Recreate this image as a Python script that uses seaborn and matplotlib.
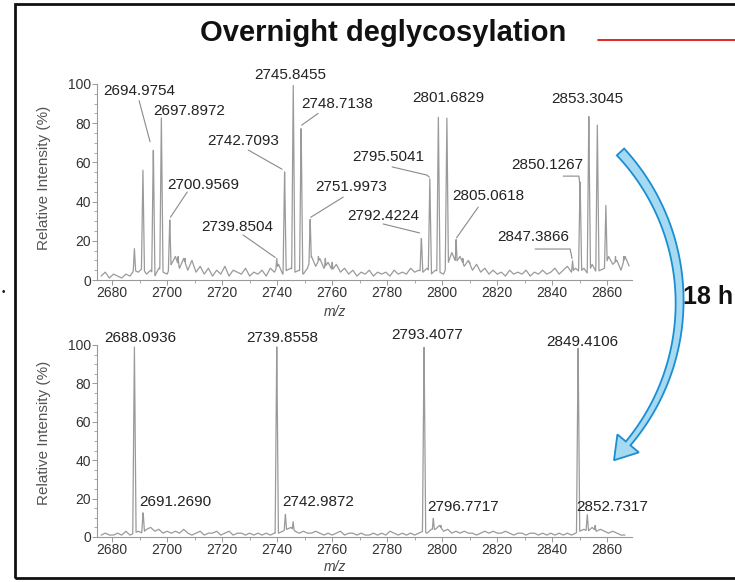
import numpy as np
import pandas as pd
import matplotlib
matplotlib.use("Agg")
import matplotlib.pyplot as plt
import seaborn as sns
from matplotlib.patches import Polygon, Rectangle
from matplotlib.ticker import MultipleLocator

# ---------------- data ----------------
# Overnight spectrum: labelled / main peaks (m/z, relative intensity %)
top_peak_mz = [2688.1, 2691.2, 2694.9754, 2697.8972, 2700.9569, 2704.0, 2706.5, 2709.0,
               2739.8504, 2742.7093, 2745.8455, 2748.7138, 2751.9973, 2755.0, 2757.5, 2760.0,
               2792.4224, 2795.5041, 2798.6, 2801.6829, 2805.0618, 2807.5, 2810.0,
               2847.3866, 2850.1267, 2853.3045, 2856.4, 2859.5, 2863.0, 2866.0]
top_peak_h = [16, 56, 69, 83, 31, 12, 11, 10,
              11, 56, 100, 79, 31, 12, 11, 9,
              22, 52, 83, 85, 21, 11, 9,
              10, 52, 84, 79, 38, 12, 12]
# Overnight spectrum: baseline noise, sampled every 1.5 m/z from 2676
top_noise_h = [2, 4, 1, 3, 2, 1, 3, 2, 5,
               4, 6, 3, 5, 2, 6, 4, 3,
               8, 12, 6, 11, 5, 10, 4, 7,
               3, 6, 2, 5, 3, 7, 2, 5, 4, 3, 6, 2, 4, 3, 5, 2,
               6, 4, 8, 3,
               5, 6, 4, 5, 3,
               6, 12, 7, 11, 6, 9, 5, 8, 4,
               6, 3, 5, 2, 4, 3, 5, 2, 4, 3, 4, 2, 5, 3, 4, 3, 6, 4,
               5, 4, 6, 3, 5,
               4, 3, 8, 14, 9, 12, 7, 10, 5, 8,
               4, 6, 3, 5, 3, 4, 2, 5, 3, 4, 3, 5, 2, 4, 3, 5, 3, 4, 6, 3,
               5, 7, 4, 6,
               4, 6, 3, 8, 4, 5,
               6, 12, 8, 10, 5, 12, 7]

# 18 h spectrum
bot_peak_mz = [2688.0936, 2691.2690, 2694.0, 2739.8558, 2742.9872, 2745.8,
               2793.4077, 2796.7717, 2799.5, 2849.4106, 2852.7317, 2855.6]
bot_peak_h = [100, 13, 5, 100, 12, 8, 100, 10, 6, 100, 12, 6]
bot_noise_h = [1, 2, 1, 1, 2, 1, 3, 1,
               2, 3, 2, 4,
               5, 3, 4, 2, 3, 2, 3, 2, 4,
               2, 1, 2, 3, 1, 2, 2, 3, 1, 2, 3, 1, 2, 2, 1, 2, 1, 2, 1, 2,
               1, 2, 2, 3,
               4, 5, 3, 2, 3, 2, 2, 3,
               2, 1, 2, 1, 2, 3, 1, 2, 2, 1, 2, 1, 1, 2, 1, 2, 1, 3, 2, 1, 2, 1, 2,
               1, 2, 3, 2, 4,
               4, 6, 3, 4, 2, 3, 2,
               3, 2, 2, 1, 2, 3, 2, 3, 2, 2, 3, 2, 1, 2, 2, 1, 2, 2, 1, 2, 1, 2, 1, 2,
               1, 2, 1, 2, 3,
               4, 3, 5, 3, 4, 3, 2, 3, 2, 1, 1, 1]
noise_start, noise_step = 2676.0, 1.5

# annotations: (label, text x, text y, leader line points)
top_labels = [
    ("2694.9754", 2690.0, 96.2, [(2689.8, 91.5), (2693.8, 70.5)]),
    ("2697.8972", 2708.0, 86.0, None),
    ("2745.8455", 2744.9, 104.5, None),
    ("2748.7138", 2761.8, 90.0, [(2748.9, 79.0), (2754.9, 85.0)]),
    ("2742.7093", 2727.6, 71.0, [(2729.5, 66.3), (2741.8, 56.5)]),
    ("2700.9569", 2713.1, 48.5, [(2707.3, 44.9), (2701.2, 32.0)]),
    ("2739.8504", 2725.5, 27.0, [(2727.6, 23.0), (2739.3, 11.5)]),
    ("2751.9973", 2766.9, 47.4, [(2764.0, 42.3), (2752.2, 32.0)]),
    ("2801.6829", 2802.2, 93.0, None),
    ("2795.5041", 2780.4, 62.8, [(2781.8, 57.7), (2794.5, 53.5), (2795.3, 52.5)]),
    ("2792.4224", 2778.5, 32.6, [(2778.5, 28.6), (2791.8, 24.0)]),
    ("2805.0618", 2816.7, 42.9, [(2813.1, 37.2), (2805.2, 21.5)]),
    ("2853.3045", 2852.7, 92.3, None),
    ("2850.1267", 2838.2, 58.7, [(2844.0, 53.0), (2849.7, 53.0), (2849.9, 50.0)]),
    ("2847.3866", 2833.1, 21.9, [(2833.8, 15.8), (2846.5, 15.8), (2847.2, 11.0)]),
]
bot_labels = [
    ("2688.0936", 2690.2, 103.8),
    ("2739.8558", 2741.8, 103.8),
    ("2793.4077", 2794.5, 105.0),
    ("2849.4106", 2851.0, 101.5),
    ("2691.2690", 2702.9, 18.2),
    ("2742.9872", 2754.9, 18.2),
    ("2796.7717", 2807.6, 15.6),
    ("2852.7317", 2861.8, 15.6),
]
x_ticks = [2680, 2700, 2720, 2740, 2760, 2780, 2800, 2820, 2840, 2860]
y_ticks = [0, 20, 40, 60, 80, 100]


def spectrum(peak_mz, peak_h, noise_h, mz_end):
    grid = np.arange(noise_start, mz_end, 0.05)
    noise_mz = noise_start + noise_step * np.arange(len(noise_h))
    prof = np.interp(grid, noise_mz, noise_h)
    for m, h in zip(peak_mz, peak_h):
        tri = h * np.clip(1 - np.abs(grid - m) / 0.6, 0, None)
        prof = np.maximum(prof, tri)
    return pd.DataFrame({"mz": grid, "intensity": prof})


top_df = spectrum(top_peak_mz, top_peak_h, top_noise_h, 2868.0)
bot_df = spectrum(bot_peak_mz, bot_peak_h, bot_noise_h, 2866.5)

# ---------------- style ----------------
sns.set_style("ticks")
plt.rcParams["font.family"] = ["Liberation Sans", "DejaVu Sans"]

W, H = 735, 582
fig = plt.figure(figsize=(W / 100, H / 100), dpi=100)


def fx(x):
    return np.asarray(x) / W


def fy(y):
    return 1 - np.asarray(y) / H


def make_axes(left, right, top, bottom):
    return fig.add_axes([fx(left), fy(bottom), fx(right) - fx(left), fy(top) - fy(bottom)])


ax1 = make_axes(97, 632, 84, 280)
ax2 = make_axes(97, 632, 345, 537)

line_col = "#9a9a9a"
txt_col = "#222222"
for ax, df, ylab_y, xlab_y in ((ax1, top_df, 0.52, -0.128), (ax2, bot_df, 0.54, -0.12)):
    sns.lineplot(data=df, x="mz", y="intensity", ax=ax, color=line_col,
                 linewidth=0.9, estimator=None, sort=False)
    ax.set_xlim(2674.5, 2869)
    ax.set_ylim(0, 100)
    ax.set_xticks(x_ticks)
    ax.set_yticks(y_ticks)
    ax.xaxis.set_minor_locator(MultipleLocator(10))
    ax.yaxis.set_minor_locator(MultipleLocator(5))
    for s in ("top", "right"):
        ax.spines[s].set_visible(False)
    for s in ("left", "bottom"):
        ax.spines[s].set_color("#9a9a9a")
        ax.spines[s].set_linewidth(0.8)
    ax.tick_params(which="major", length=3.5, width=0.7, color="#9a9a9a",
                   labelsize=10, labelcolor="#333333", pad=1)
    ax.tick_params(axis="x", which="major", pad=0.5)
    ax.tick_params(which="minor", length=2, width=0.6, color="#9a9a9a")
    ax.set_ylabel("Relative Intensity (%)", fontsize=11, color="#555555")
    ax.set_xlabel("m/z", fontsize=10, style="italic", color="#444444")
    ax.yaxis.set_label_coords(-0.086, ylab_y)
    ax.xaxis.set_label_coords(0.445, xlab_y)
    ax.patch.set_alpha(0)

ann_kw = dict(fontsize=11, color=txt_col, ha="center", va="center", clip_on=False)
for lab, tx, ty, pts in top_labels:
    ax1.text(tx, ty, lab, **ann_kw)
    if pts:
        xs, ys = zip(*pts)
        ax1.plot(xs, ys, color="#8a8a8a", linewidth=0.8, clip_on=False)
for lab, tx, ty in bot_labels:
    ax2.text(tx, ty, lab, **ann_kw)

# ---------------- decorations ----------------
fig.text(fx(383), fy(33), "Overnight deglycosylation", fontsize=21,
         fontweight="bold", ha="center", va="center", color="#111111")
fig.add_artist(plt.Line2D([fx(598), fx(735)], [fy(40), fy(40)],
                          color="#e00000", linewidth=1.2, transform=fig.transFigure))
fig.text(fx(683), fy(297), "18 h", fontsize=18, fontweight="bold",
         ha="left", va="center", color="#111111")
fig.text(fx(3), fy(292), "•", fontsize=7, ha="center", va="center", color="#111111")

border = Rectangle((fx(15), fy(578)), fx(760) - fx(15), fy(4) - fy(578),
                   transform=fig.transFigure, fill=False, edgecolor="#111111",
                   linewidth=2, clip_on=False)
fig.add_artist(border)

# curved "18 h" arrow: band along a circular arc plus a triangular head (pixel space)
cx, cy, r = 459.6, 302.0, 220.0
th = np.deg2rad(np.linspace(-43.0, 40.0, 80))
w = np.linspace(10.0, 6.0, th.size)
outer_x, outer_y = cx + (r + w / 2) * np.cos(th), cy + (r + w / 2) * np.sin(th)
inner_x, inner_y = cx + (r - w / 2) * np.cos(th), cy + (r - w / 2) * np.sin(th)
tb = th[-1]
base = np.array([cx + r * np.cos(tb), cy + r * np.sin(tb)])
tang = np.array([-np.sin(tb), np.cos(tb)])
norm = np.array([np.cos(tb), np.sin(tb)])
tip = base + 22 * tang
barb_o = base + 14 * norm
barb_i = base - 14 * norm
poly_x = np.concatenate([outer_x, [barb_o[0], tip[0], barb_i[0]], inner_x[::-1]])
poly_y = np.concatenate([outer_y, [barb_o[1], tip[1], barb_i[1]], inner_y[::-1]])
arrow = Polygon(np.column_stack([fx(poly_x), fy(poly_y)]), closed=True,
                transform=fig.transFigure, facecolor="#a6daf2", edgecolor="#1a8ed2",
                linewidth=1.3, joinstyle="miter")
fig.add_artist(arrow)

fig.savefig("out.png", dpi=100)
